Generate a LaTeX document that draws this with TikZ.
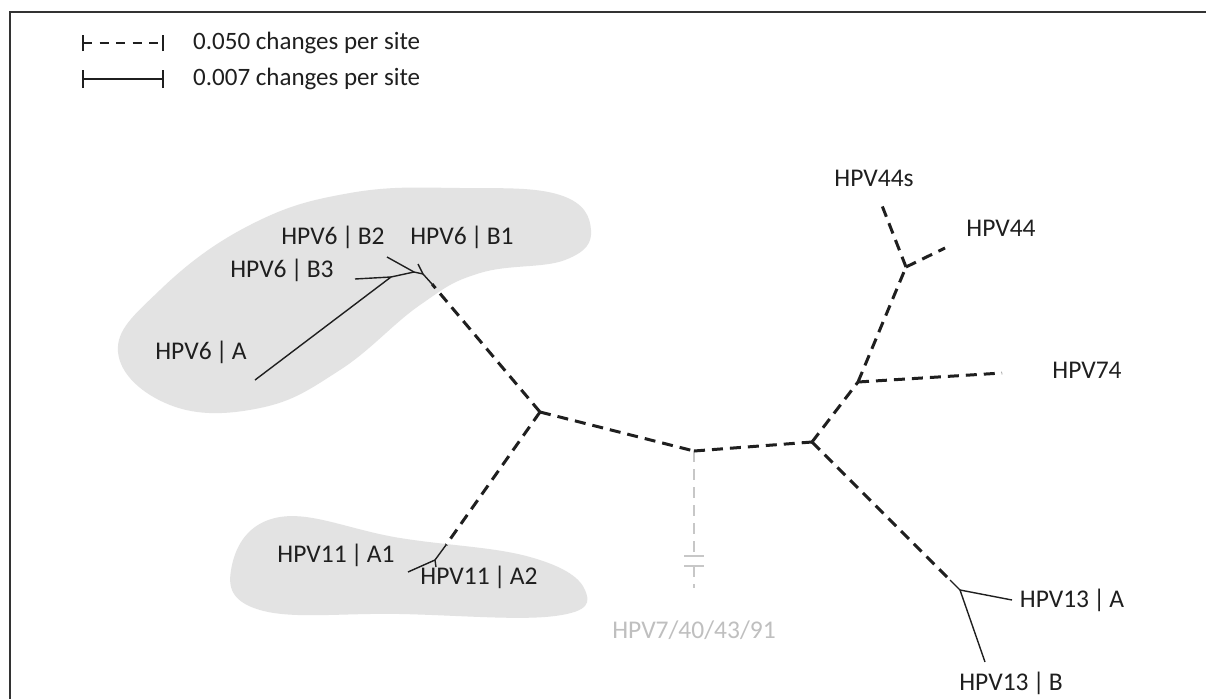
\documentclass[tikz,border=0pt]{standalone}
\usepackage{fontspec}
\setmainfont{Carlito}
\begin{document}
\begin{tikzpicture}[x=1pt,y=-1pt,
  lbl/.style={font=\fontsize{25.5}{30}\selectfont, text=black!88, inner sep=0pt},
  leg/.style={font=\fontsize{25}{28}\selectfont, text=black!88, inner sep=0pt, anchor=west},
  dsh/.style={line width=3pt, draw=black!88, dash pattern=on 11pt off 7pt},
  sol/.style={line width=1.4pt, draw=black!88},
  grl/.style={line width=2.8pt, draw=black!22, dash pattern=on 11pt off 7pt},
  blob/.style={fill=black!11},
]
\useasboundingbox (0,0) rectangle (1206,699);
\fill[white] (0,0) rectangle (1206,699);
\draw[line width=2pt, black!80] (10,699) -- (10,12) -- (1206,12);

% gray blobs
\fill[blob] plot[smooth cycle, tension=0.7] coordinates {(118,352) (160,290) (250,225) (350,193) (460,188) (560,195) (591,230) (565,260) (480,273) (420,305) (340,370) (260,408) (170,405)};
\fill[blob] plot[smooth cycle, tension=0.7] coordinates {(232,565) (280,517) (400,538) (530,557) (585,590) (555,616) (400,614) (260,610)};

% legend
\coordinate (s1a) at (83,43); \coordinate (s1b) at (163,43);
\coordinate (s2a) at (83,79); \coordinate (s2b) at (163,79);
\draw[line width=2.2pt, black!88, dash pattern=on 9pt off 7.5pt] (s1a) -- (s1b);
\draw[line width=1.8pt, black!88] ([yshift=-8pt]s1a) -- ([yshift=8pt]s1a);
\draw[line width=1.8pt, black!88] ([yshift=-8pt]s1b) -- ([yshift=8pt]s1b);
\draw[line width=1.4pt, black!88] (s2a) -- (s2b);
\draw[line width=1.8pt, black!88] ([yshift=-9pt]s2a) -- ([yshift=9pt]s2a);
\draw[line width=1.8pt, black!88] ([yshift=-9pt]s2b) -- ([yshift=9pt]s2b);
\node[leg] (l1) at (193,43) {0.050 changes per site};
\node[leg] (l2) at (193,79) {0.007 changes per site};

% tree coordinates
\coordinate (L) at (540,412);
\coordinate (C) at (694,451);
\coordinate (R) at (812,442);
\coordinate (N74) at (858,382);
\coordinate (N44) at (906,267);
\coordinate (t44s) at (881,203);
\coordinate (t44) at (945,248);
\coordinate (t74) at (1002,373);
\coordinate (d13) at (950,580);
\coordinate (j13) at (960,590);
\coordinate (t13A) at (1012,600);
\coordinate (t13B) at (985,662);
\coordinate (d6) at (432,284);
\coordinate (j6) at (423,274);
\coordinate (tB1) at (418,264);
\coordinate (j2) at (414,272);
\coordinate (tB2) at (387,257);
\coordinate (j3) at (391,277);
\coordinate (tB3) at (355,279);
\coordinate (tA) at (255,380);
\coordinate (d11) at (446,545);
\coordinate (j11) at (435,560);
\coordinate (tA1) at (408,572);
\coordinate (tA2) at (436,567);
\coordinate (g1) at (694,556);
\coordinate (g2) at (694,566);
\coordinate (gend) at (694,588);

% outgroup
\draw[grl] (C) -- (g1);
\draw[grl] (g2) -- (gend);
\draw[line width=2pt, black!22] ([xshift=-10pt]g1) -- ([xshift=10pt]g1);
\draw[line width=2pt, black!22] ([xshift=-10pt]g2) -- ([xshift=10pt]g2);

% dashed branches
\draw[dsh] (L) -- (d6);
\draw[dsh] (L) -- (d11);
\draw[dsh] (L) -- (C);
\draw[dsh] (C) -- (R);
\draw[dsh] (R) -- (N74);
\draw[dsh] (N74) -- (N44);
\draw[dsh] (N44) -- (t44s);
\draw[dsh] (N44) -- (t44);
\draw[dsh] (N74) -- (t74);
\draw[dsh] (R) -- (d13);

% solid branches
\draw[sol] (d6) -- (j6);
\draw[sol] (j6) -- (tB1);
\draw[sol] (j6) -- (j2);
\draw[sol] (j2) -- (tB2);
\draw[sol] (j2) -- (j3);
\draw[sol] (j3) -- (tB3);
\draw[sol] (j3) -- (tA);
\draw[sol] (d11) -- (j11);
\draw[sol] (j11) -- (tA1);
\draw[sol] (j11) -- (tA2);
\draw[sol] (d13) -- (j13);
\draw[sol] (j13) -- (t13A);
\draw[sol] (j13) -- (t13B);

% labels
\node[lbl] (nB2) at (333,237) {HPV6\,|\,B2};
\node[lbl] (nB1) at (462,237) {HPV6\,|\,B1};
\node[lbl] (nB3) at (282,270) {HPV6\,|\,B3};
\node[lbl] (nA) at (201,352) {HPV6\,|\,A};
\node[lbl] (nA1) at (336,555) {HPV11\,|\,A1};
\node[lbl] (nA2) at (479,577) {HPV11\,|\,A2};
\node[lbl, text=black!25] (nout) at (694,630) {HPV7/40/43/91};
\node[lbl] (n13A) at (1072,600) {HPV13\,|\,A};
\node[lbl] (n13B) at (1011,683) {HPV13\,|\,B};
\node[lbl] (n74) at (1087,370) {HPV74};
\node[lbl] (n44) at (1001,228) {HPV44};
\node[lbl] (n44s) at (874,178) {HPV44s};
\end{tikzpicture}
\end{document}
